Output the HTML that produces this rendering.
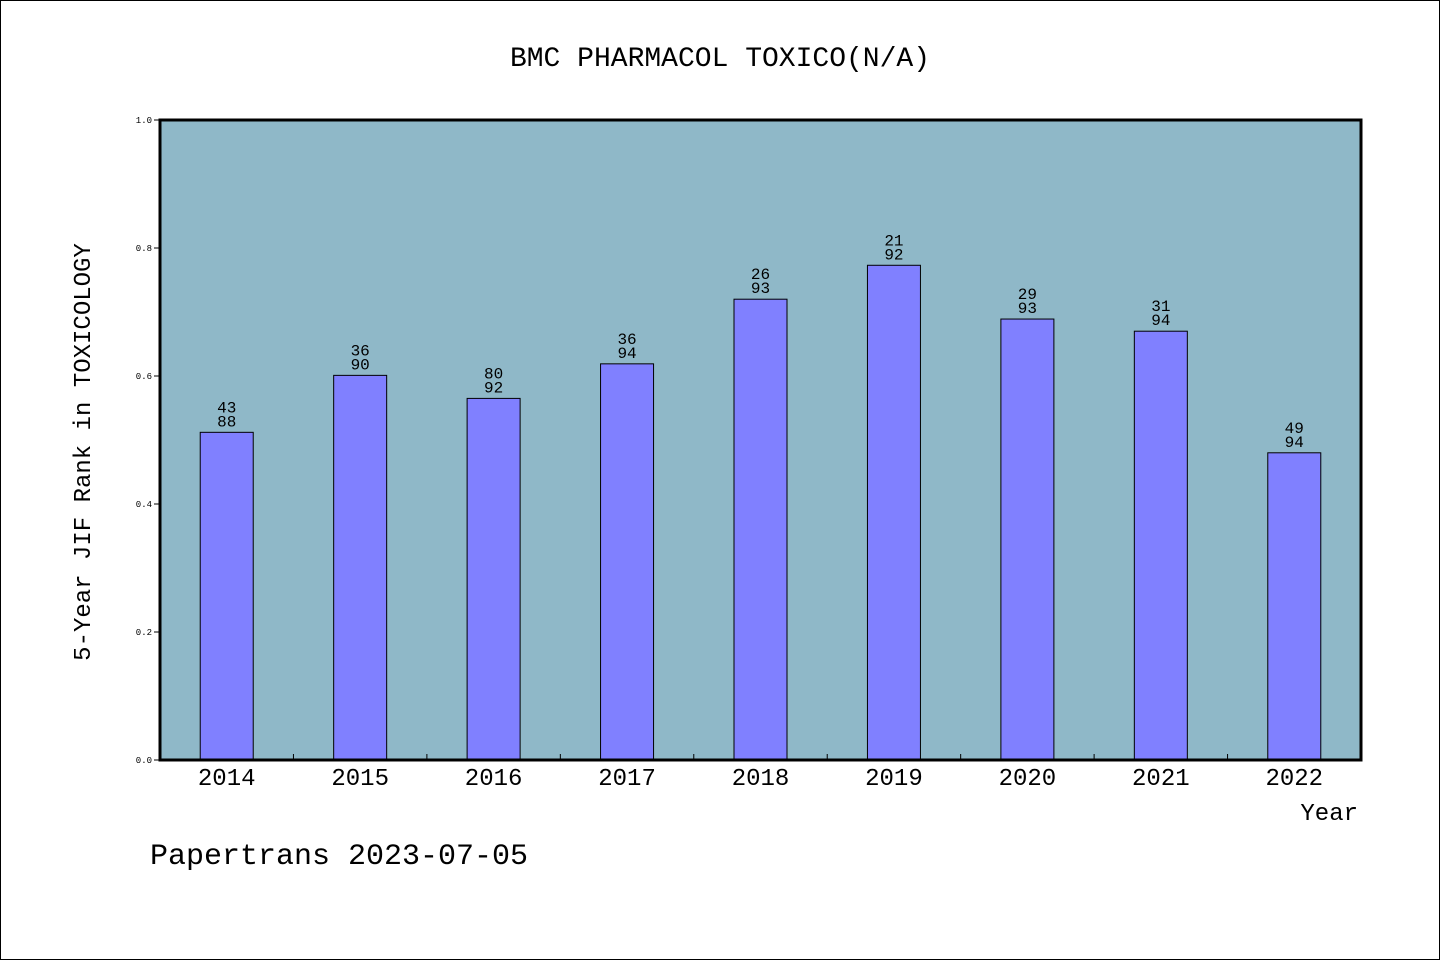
<!DOCTYPE html>
<html><head><meta charset="utf-8"><style>
html,body{margin:0;padding:0;background:#fff;}
svg{display:block;}
text{font-family:"Liberation Mono","WenQuanYi Zen Hei",monospace;fill:#000;}
</style></head><body>
<svg id="chart" width="1440" height="960">
<rect x="0.5" y="0.5" width="1439" height="959" fill="#fff" stroke="#000"/>
<text x="720" y="66" font-size="28" text-anchor="middle">BMC PHARMACOL TOXICO(N/A)</text>
<rect x="160" y="120" width="1201" height="640" fill="#8fb8c8"/>
<g id="bars"></g>
<rect x="160" y="120" width="1201" height="640" fill="none" stroke="#000" stroke-width="3"/>
<text x="0" y="0" font-size="24" text-anchor="middle" transform="translate(90,452) rotate(-90)">5-Year JIF Rank in TOXICOLOGY</text>
<text x="1358" y="820" font-size="24" text-anchor="end">Year</text>
<text x="150" y="864" font-size="30">Papertrans 2023-07-05</text>
</svg>
<script>
const years = ["2014","2015","2016","2017","2018","2019","2020","2021","2022"];
const values = [0.512,0.601,0.565,0.619,0.72,0.773,0.689,0.67,0.48];
const rankTop = ["43","36","80","36","26","21","29","31","49"];
const rankBottom = ["88","90","92","94","93","92","93","94","94"];
const yTicks = ["0.0","0.2","0.4","0.6","0.8","1.0"];
const X0=160,W=1201,Y0=760,H=640;
const band=W/years.length;
const xc=i=>X0+band*(i+0.5);
const y=v=>Y0-v*H;
const NS="http://www.w3.org/2000/svg";
const g=document.getElementById('bars');
const svg=document.getElementById('chart');
function mk(tag,attrs,parent){const e=document.createElementNS(NS,tag);for(const k in attrs)e.setAttribute(k,attrs[k]);parent.appendChild(e);return e;}
years.forEach((yr,i)=>{
  const bw=53;
  const r=mk('rect',{x:xc(i)-bw/2,y:y(values[i]),width:bw,height:Y0-y(values[i]),fill:'#8080ff',stroke:'#000','stroke-width':1},g);
  
  
  const t1=mk('text',{x:xc(i),y:y(values[i])-20,'font-size':16,'text-anchor':'middle'},g);
  t1.textContent=rankTop[i];
  
  
  const t2=mk('text',{x:xc(i),y:y(values[i])-6,'font-size':16,'text-anchor':'middle'},g);
  t2.textContent=rankBottom[i];
  
  
  const xl=mk('text',{x:xc(i),y:785,'font-size':24,'text-anchor':'middle'},svg);
  xl.textContent=yr;
  
  
  if(i>0){
    const tk=mk('line',{x1:X0+band*i,x2:X0+band*i,y1:Y0,y2:Y0-6,stroke:'#000'},svg);
    
    
  }
});
yTicks.forEach(l=>{
  const v=parseFloat(l);
  const tk=mk('line',{x1:X0-6,x2:X0,y1:y(v),y2:y(v),stroke:'#000'},svg);
  
  
  const t=mk('text',{x:X0-8,y:y(v)+3,'font-size':9,'text-anchor':'end'},svg);
  t.textContent=l;
  
  
});
</script>
</body></html>
